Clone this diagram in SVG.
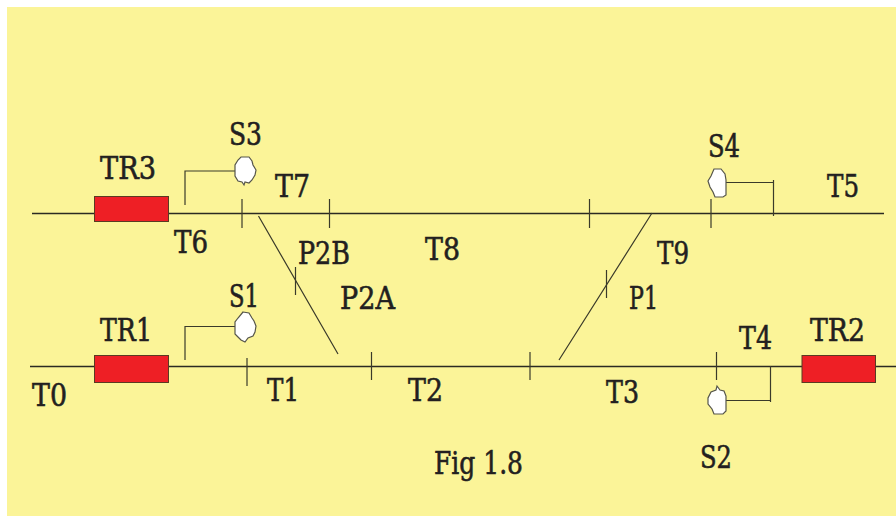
<svg xmlns="http://www.w3.org/2000/svg" width="896" height="516" viewBox="0 0 896 516">
<style>
.l{stroke:#2b2a22;stroke-width:1.3;fill:none}
.t{stroke:#3a3a2a;stroke-width:1.2;fill:none}
.r{fill:#ee1f25;stroke:#5a3a22;stroke-width:1}
.b{fill:#fff;stroke:#55554a;stroke-width:1.2}
text{font-family:"DejaVu Serif","Liberation Serif",serif;font-size:31px;fill:#231f20;stroke:#231f20;stroke-width:.6}
</style>
<rect width="896" height="516" fill="#fff"/>
<rect x="7" y="7" width="889" height="509" fill="#fbf498"/>
<g id="connectors">
<path class="l" d="M32 213.500H884M30 366.500H896"/>
<path class="t" d="M258.500 216L338 354M652 213L559 360"/>
<path class="t" d="M242 199V228M329.500 199V228M589.500 199V228M711 199V228M773.500 180V216M247 358V386M371.500 352V380M530 352V380M716.500 352V380M770.500 366V402M295.500 267V295M606.500 270V298"/>
<path class="t" d="M185 205V171H236M185 360V326.500H236M726 182.500H773.500M726 400.500H770.500"/>
</g>
<g id="TR3"><rect class="r" x="94.500" y="196.500" width="74" height="25"/><text x="100" y="179" textLength="56" lengthAdjust="spacingAndGlyphs">TR3</text></g>
<g id="TR1"><rect class="r" x="94.500" y="355.500" width="74" height="27"/><text x="100" y="341" textLength="52" lengthAdjust="spacingAndGlyphs">TR1</text></g>
<g id="TR2"><rect class="r" x="802" y="355.500" width="73.500" height="27"/><text x="810" y="341" textLength="55" lengthAdjust="spacingAndGlyphs">TR2</text></g>
<g id="S3"><path class="b" d="M241 157L249 157L252 161L253 165L256 170L255 175L252 180L249 183L245 182L244 185L242 182L238 181L235 176V165L238 160Z"/><text x="229" y="145" textLength="33" lengthAdjust="spacingAndGlyphs">S3</text></g>
<g id="S1"><path class="b" d="M243 312L249 313L252 318L254 321L256 326L255 332L253 336L248 338L245 342L241 340L238 337L235 334V322L238 318Z"/><text x="229" y="307" textLength="30" lengthAdjust="spacingAndGlyphs">S1</text></g>
<g id="S4"><path class="b" d="M714 169L721 169L725 174L726 180V195L723 197H715L713 192L710 187L708 181L711 176Z"/><text x="708" y="157" textLength="32" lengthAdjust="spacingAndGlyphs">S4</text></g>
<g id="S2"><path class="b" d="M717 386L720 390L724 391L726 396V411L723 414H714L712 409L708 404V398L711 392L716 390Z"/><text x="700" y="468" textLength="32" lengthAdjust="spacingAndGlyphs">S2</text></g>
<g id="labels">
<text x="275" y="197" textLength="35" lengthAdjust="spacingAndGlyphs">T7</text>
<text x="174" y="253" textLength="34" lengthAdjust="spacingAndGlyphs">T6</text>
<text x="298" y="264" textLength="52" lengthAdjust="spacingAndGlyphs">P2B</text>
<text x="425" y="260" textLength="35" lengthAdjust="spacingAndGlyphs">T8</text>
<text x="340" y="309" textLength="55" lengthAdjust="spacingAndGlyphs">P2A</text>
<text x="32" y="406" textLength="35" lengthAdjust="spacingAndGlyphs">T0</text>
<text x="267" y="401" textLength="32" lengthAdjust="spacingAndGlyphs">T1</text>
<text x="408" y="401" textLength="35" lengthAdjust="spacingAndGlyphs">T2</text>
<text x="606" y="403" textLength="33" lengthAdjust="spacingAndGlyphs">T3</text>
<text x="739" y="349" textLength="33" lengthAdjust="spacingAndGlyphs">T4</text>
<text x="827" y="197" textLength="32" lengthAdjust="spacingAndGlyphs">T5</text>
<text x="657" y="264" textLength="32" lengthAdjust="spacingAndGlyphs">T9</text>
<text x="629" y="309" textLength="29" lengthAdjust="spacingAndGlyphs">P1</text>
<text x="434" y="474" textLength="89" lengthAdjust="spacingAndGlyphs">Fig 1.8</text>
</g>
</svg>
